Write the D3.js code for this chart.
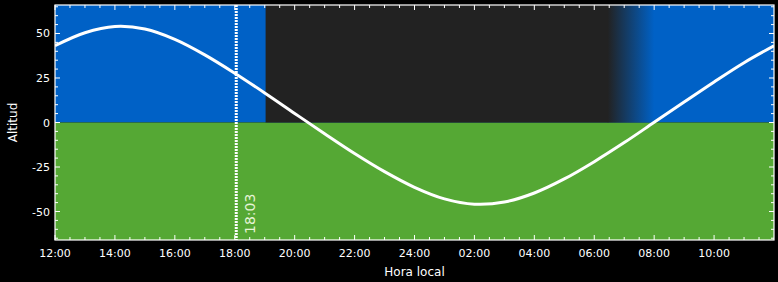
<!DOCTYPE html>
<html>
<head>
<meta charset="utf-8">
<script src="https://d3js.org/d3.v7.min.js"></script>
<style>
    body { margin: 0; background: #000; }
    svg { display: block; }
    text { font-family: "DejaVu Sans", sans-serif; fill: #fff; }
</style>
</head>
<body>
<div class="chart"></div>

<script>

    // hours after 12:00 local time and sun altitude in degrees
    const hours = [0, 1, 2, 3, 4, 5, 6, 7, 8, 9, 10, 11, 12, 13, 14, 15, 16, 17, 18, 19, 20, 21, 22, 23, 24];
    const altitude = [43.1, 50.4, 53.9, 52.5, 46.7, 38.0, 27.7, 16.6, 5.1, -6.3, -17.4, -27.6, -36.4,
        -42.9, -45.9, -44.7, -39.6, -31.7, -22.0, -11.3, 0.1, 11.5, 22.8, 33.6, 43.1];

    // night band (hours after 12:00): dark from dusk, fading out at dawn
    const nightStart = 7.03;
    const fadeStart = 18.45;
    const fadeEnd = 20.0;

    // current time marker
    const nowHour = 6.05;
    const nowLabel = "18:03";

    const xTicks = [0, 2, 4, 6, 8, 10, 12, 14, 16, 18, 20, 22];
    const xTickLabels = ["12:00", "14:00", "16:00", "18:00", "20:00", "22:00", "24:00", "02:00", "04:00", "06:00", "08:00", "10:00"];
    const yTicks = [-50, -25, 0, 25, 50];

    const width = 778;
    const height = 282;
    const m = { left: 55, right: 774, top: 5, bottom: 240 };
    const sky = '#0061c6', ground = '#55a834', night = '#222';

    const x = d3.scaleLinear().domain([0, 24]).range([m.left, m.right]);
    const y = d3.scaleLinear().domain([-66, 66]).range([m.bottom, m.top]);

    const svg = d3.select('.chart')
        .append('svg')
        .attr('width', width)
        .attr('height', height)

    const defs = svg.append('defs');
    const grad = defs.append('linearGradient')
        .attr('id', 'dawn')
        .attr('x1', 0).attr('x2', 1).attr('y1', 0).attr('y2', 0);
    grad.append('stop').attr('offset', '0%').attr('stop-color', night);
    grad.append('stop').attr('offset', '100%').attr('stop-color', sky);

    defs.append('clipPath').attr('id', 'plot')
        .append('rect')
        .attr('x', m.left).attr('y', m.top)
        .attr('width', m.right - m.left).attr('height', m.bottom - m.top);

    const plot = svg.append('g').attr('clip-path', 'url(#plot)');

    // sky and ground
    plot.append('rect')
        .attr('x', m.left).attr('y', m.top)
        .attr('width', m.right - m.left).attr('height', y(0) - m.top)
        .attr('fill', sky);
    plot.append('rect')
        .attr('x', m.left).attr('y', y(0))
        .attr('width', m.right - m.left).attr('height', m.bottom - y(0))
        .attr('fill', ground);

    // night
    plot.append('rect')
        .attr('x', x(nightStart)).attr('y', m.top)
        .attr('width', x(fadeStart) - x(nightStart) + 0.5).attr('height', y(0) - m.top)
        .attr('fill', night);
    plot.append('rect')
        .attr('x', x(fadeStart)).attr('y', m.top)
        .attr('width', x(fadeEnd) - x(fadeStart)).attr('height', y(0) - m.top)
        .attr('fill', 'url(#dawn)');

    // altitude curve
    const line = d3.line()
        .x(function (d, i) { return x(hours[i]); })
        .y(function (d) { return y(d); })
        .curve(d3.curveCatmullRom);

    plot.append('path')
        .datum(altitude)
        .attr('d', line)
        .attr('fill', 'none')
        .attr('stroke', '#fff')
        .attr('stroke-width', 3);

    // current time
    plot.append('line')
        .attr('x1', x(nowHour)).attr('x2', x(nowHour))
        .attr('y1', m.top).attr('y2', m.bottom)
        .attr('stroke', '#fff')
        .attr('stroke-width', 3)
        .attr('stroke-dasharray', '2,1');

    svg.append('text')
        .attr('transform', 'translate(' + (x(nowHour) + 19) + ',' + (m.bottom - 6) + ') rotate(-90)')
        .attr('font-family', '"DejaVu Sans Condensed", "DejaVu Sans", sans-serif')
        .attr('font-size', 14)
        .style('fill', '#e6f4d6')
        .text(nowLabel);

    // frame
    svg.append('rect')
        .attr('x', m.left).attr('y', m.top)
        .attr('width', m.right - m.left).attr('height', m.bottom - m.top)
        .attr('fill', 'none')
        .attr('stroke', '#fff')
        .attr('stroke-width', 1.2);

    // inward ticks on every side
    const xMinor = d3.range(0, 24, 0.5);
    const yMinor = d3.range(-65, 66, 5);

    const ticks = svg.append('g').attr('stroke', '#fff').attr('stroke-width', 1);
    xMinor.forEach(function (h) {
        const len = h % 2 === 0 ? 5 : 3;
        ticks.append('line').attr('x1', x(h)).attr('x2', x(h)).attr('y1', m.bottom).attr('y2', m.bottom - len);
        ticks.append('line').attr('x1', x(h)).attr('x2', x(h)).attr('y1', m.top).attr('y2', m.top + len);
    });
    yMinor.forEach(function (v) {
        const len = v % 25 === 0 ? 5 : 3;
        ticks.append('line').attr('x1', m.left).attr('x2', m.left + len).attr('y1', y(v)).attr('y2', y(v));
        ticks.append('line').attr('x1', m.right).attr('x2', m.right - len).attr('y1', y(v)).attr('y2', y(v));
    });

    svg.selectAll('.x-label')
        .data(xTicks)
        .enter()
        .append('text')
        .attr('class', 'x-label')
        .attr('x', function (d) { return x(d); })
        .attr('y', 257)
        .attr('text-anchor', 'middle')
        .attr('font-size', 11)
        .text(function (d, i) { return xTickLabels[i]; });

    svg.selectAll('.y-label')
        .data(yTicks)
        .enter()
        .append('text')
        .attr('class', 'y-label')
        .attr('x', 50)
        .attr('y', function (d) { return y(d) + 4; })
        .attr('text-anchor', 'end')
        .attr('font-size', 11)
        .text(function (d) { return d; });

    svg.append('text')
        .attr('x', (m.left + m.right) / 2)
        .attr('y', 276)
        .attr('text-anchor', 'middle')
        .attr('font-size', 12)
        .text('Hora local');

    svg.append('text')
        .attr('transform', 'translate(17,' + y(0) + ') rotate(-90)')
        .attr('text-anchor', 'middle')
        .attr('font-size', 12)
        .text('Altitud');

</script>
</body>
</html>
